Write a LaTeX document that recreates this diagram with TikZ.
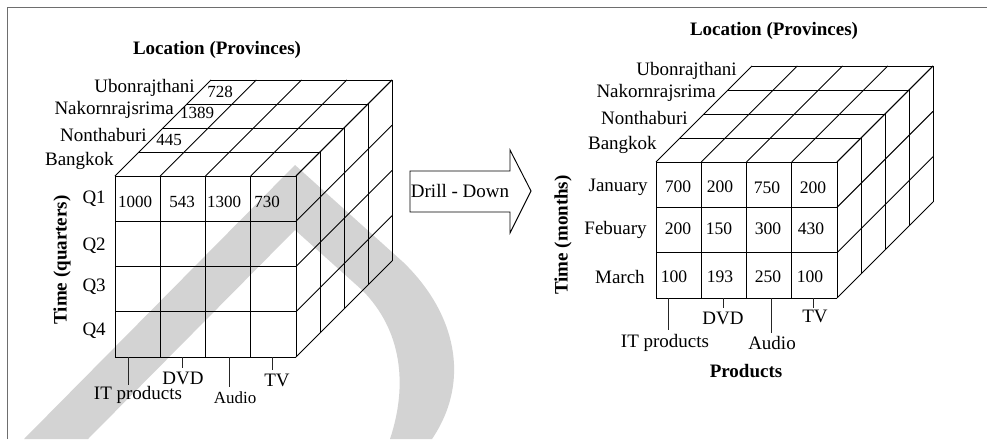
\documentclass[tikz,border=0pt]{standalone}
\usepackage{fontspec}
\setmainfont{Liberation Serif}
\definecolor{wm}{RGB}{211,211,211}
\definecolor{framec}{RGB}{110,110,110}

% a data cube: front face at (#1,#2), #3 columns, #4 rows,
% column width #5, row height #6, #7 layers of depth 24 each
\newcommand{\cubegrid}[7]{%
  \foreach \i in {0,...,#3}{
    \draw[cubeline] ({#1+\i*#5},{#2}) -- ({#1+\i*#5},{#2+#4*#6});
    \draw[cubeline] ({#1+\i*#5},{#2}) -- ({#1+\i*#5+#7*24},{#2-#7*24});
  }
  \foreach \j in {0,...,#4}{
    \draw[cubeline] ({#1},{#2+\j*#6}) -- ({#1+#3*#5},{#2+\j*#6});
    \draw[cubeline] ({#1+#3*#5},{#2+\j*#6}) -- ({#1+#3*#5+#7*24},{#2+\j*#6-#7*24});
  }
  \foreach \k in {1,...,#7}{
    \draw[cubeline] ({#1+\k*24},{#2-\k*24}) -- ({#1+#3*#5+\k*24},{#2-\k*24});
    \draw[cubeline] ({#1+#3*#5+\k*24},{#2-\k*24}) -- ({#1+#3*#5+\k*24},{#2+#4*#6-\k*24});
  }
}

\begin{document}
\begin{tikzpicture}[x=0.75pt,y=-0.75pt,
  lbl/.style={inner sep=0pt, font=\fontsize{14.25}{16}\selectfont},
  num/.style={inner sep=0pt, font=\fontsize{12.75}{15}\selectfont},
  numr/.style={inner sep=0pt, font=\fontsize{13.2}{15}\selectfont},
  ttl/.style={inner sep=0pt, font=\fontsize{14.25}{16}\selectfont\bfseries},
  cubeline/.style={line width=0.7pt, black},
  tickline/.style={line width=0.7pt, black!85},
]
\useasboundingbox (0,0) rectangle (987,439);

% background mark
\fill[wm] (24,439) -- (295,165) -- (403,262)
  .. controls (455,312) and (472,380) .. (432,439) -- (390,439)
  .. controls (408,385) and (402,330) .. (362,290) -- (295,230) -- (88,439) -- cycle;

% frame
\draw[framec, line width=0.75pt] (7,439) -- (7,7) -- (987,7);

% ---------------- quarterly cube ----------------
\cubegrid{115}{176}{4}{4}{45.25}{45.25}{4}

\node[ttl] (locL) at (217,50) {Location (Provinces)};
\node[lbl, anchor=east] (ubonL) at (195,88) {Ubonrajthani};
\node[lbl, anchor=east] (nakL) at (174,110) {Nakornrajsrima};
\node[lbl, anchor=east] (nonL) at (147,135) {Nonthaburi};
\node[lbl, anchor=east] (bkkL) at (114,161) {Bangkok};
\node[num] (v728) at (220,92) {728};
\node[num] (v1389) at (197,113) {1389};
\node[num] (v445) at (169,140) {445};

\node[ttl, rotate=90] (timeL) at (62,260) {Time (quarters)};
\node[lbl, anchor=east] (q1) at (106,199) {Q1};
\node[lbl, anchor=east] (q2) at (106,246) {Q2};
\node[lbl, anchor=east] (q3) at (106,287) {Q3};
\node[lbl, anchor=east] (q4) at (106,331) {Q4};

\node[num] (v1000) at (135,202) {1000};
\node[num] (v543) at (182,202) {543};
\node[num] (v1300) at (224,202) {1300};
\node[num] (v730) at (267,202) {730};

\coordinate (tITL) at (128,357);
\coordinate (tDVDL) at (182,357);
\coordinate (tAudL) at (229,357);
\coordinate (tTVL) at (272,357);
\node[lbl] (itL) at (138,395) {IT products};
\node[lbl] (dvdL) at (183,378) {DVD};
\node[num] (audL) at (235,398) {Audio};
\node[lbl] (tvL) at (277,380) {TV};
\draw[tickline] (tITL) -- (128,385);
\draw[tickline] (tDVDL) -- (182,368);
\draw[tickline] (tAudL) -- (229,387);
\draw[tickline] (tTVL) -- (272,370);

% ---------------- drill-down arrow ----------------
\draw[line width=0.7pt] (410,171) -- (510,171) -- (510,150) -- (531,191)
  -- (510,233) -- (510,212) -- (410,212) -- cycle;
\node[lbl] (drill) at (460,191) {Drill - Down};

% ---------------- monthly cube ----------------
\cubegrid{656}{162}{4}{3}{45.25}{45.33}{4}

\node[ttl] (locR) at (774,31) {Location (Provinces)};
\node[lbl, anchor=east] (ubonR) at (737,71) {Ubonrajthani};
\node[lbl, anchor=east] (nakR) at (716,93) {Nakornrajsrima};
\node[lbl, anchor=east] (nonR) at (688,118) {Nonthaburi};
\node[lbl, anchor=east] (bkkR) at (657,145) {Bangkok};

\node[ttl, rotate=90] (timeR) at (563,235) {Time (months)};
\node[lbl, anchor=east] (jan) at (648,187) {January};
\node[lbl, anchor=east] (feb) at (647,230) {Febuary};
\node[lbl, anchor=east] (mar) at (645,277) {March};

\node[numr] (r11) at (678,187) {700};
\node[numr] (r12) at (720,187) {200};
\node[numr] (r13) at (767,188) {750};
\node[numr] (r14) at (813,188) {200};
\node[numr] (r21) at (678,229) {200};
\node[numr] (r22) at (719,229) {150};
\node[numr] (r23) at (768,229) {300};
\node[numr] (r24) at (811,229) {430};
\node[numr] (r31) at (674,277) {100};
\node[numr] (r32) at (720,277) {193};
\node[numr] (r33) at (768,277) {250};
\node[numr] (r34) at (810,277) {100};

\coordinate (tITR) at (668,298);
\coordinate (tDVDR) at (723,298);
\coordinate (tAudR) at (771,298);
\coordinate (tTVR) at (813,298);
\node[lbl] (itR) at (665,343) {IT products};
\node[lbl] (dvdR) at (723,318) {DVD};
\node[lbl] (audR) at (772,343) {Audio};
\node[lbl] (tvR) at (815,316) {TV};
\node[ttl] (prodR) at (746,371) {Products};
\draw[tickline] (tITR) -- (668,330);
\draw[tickline] (tDVDR) -- (723,308);
\draw[tickline] (tAudR) -- (771,333);
\draw[tickline] (tTVR) -- (813,308);
\end{tikzpicture}
\end{document}
